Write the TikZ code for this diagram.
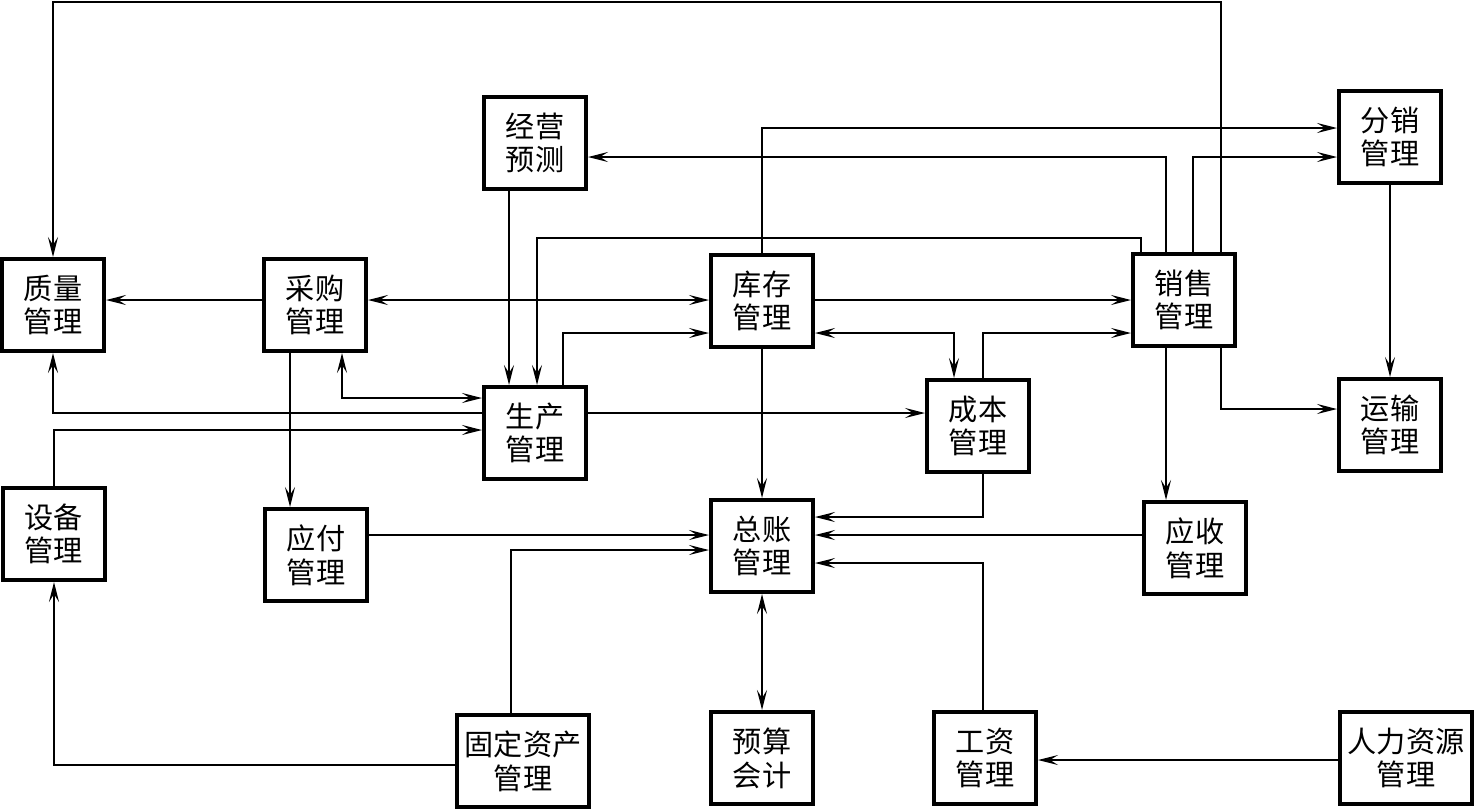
\documentclass[tikz,border=0pt]{standalone}
\usepackage{fontspec}
\newfontfamily\cjk{Noto Sans CJK SC}
\usepackage{tikz}
\usetikzlibrary{arrows.meta}
\tikzset{
  modbox/.style={draw,line width=0.4mm,fill=white,minimum width=10.2mm,minimum height=9.2mm,
    inner sep=0pt,align=center,font=\cjk\fontsize{8.3pt}{9.6pt}\selectfont},
  widebox/.style={modbox,minimum width=13.2mm},
  flow/.style={line width=0.2mm,-{Stealth[length=2mm,width=1mm,inset=0.8mm]}},
  both/.style={flow,{Stealth[length=2mm,width=1mm,inset=0.8mm]}-{Stealth[length=2mm,width=1mm,inset=0.8mm]}}
}
\begin{document}
\begin{tikzpicture}[x=0.1mm,y=-0.1mm]
\useasboundingbox (0,0) rectangle (1477,810);
% modules
\node[modbox] (zhiliang) at (53,305) {质量\\管理};
\node[modbox] (caigou) at (315,305) {采购\\管理};
\node[modbox] (jingying) at (535,143) {经营\\预测};
\node[modbox] (kucun) at (762,301) {库存\\管理};
\node[modbox] (xiaoshou) at (1184,300) {销售\\管理};
\node[modbox] (fenxiao) at (1390,137) {分销\\管理};
\node[modbox] (yunshu) at (1390,425) {运输\\管理};
\node[modbox] (shengchan) at (535,433) {生产\\管理};
\node[modbox] (chengben) at (978,426) {成本\\管理};
\node[modbox] (shebei) at (54,534) {设备\\管理};
\node[modbox] (yingfu) at (316,555) {应付\\管理};
\node[modbox] (zongzhang) at (762,546) {总账\\管理};
\node[modbox] (yingshou) at (1195,548) {应收\\管理};
\node[widebox] (guding) at (523,761) {固定资产\\管理};
\node[modbox] (yusuan) at (762,758) {预算\\会计};
\node[modbox] (gongzi) at (985,758) {工资\\管理};
\node[widebox] (renli) at (1406,758) {人力资源\\管理};
% links from sales
\draw[flow] (xiaoshou.north -| 1221,0) -- (1221,2) -| (zhiliang.north);
\draw[flow] (xiaoshou.north -| 1166,0) |- (jingying.east |- 0,157);
\draw[flow] (xiaoshou.north -| 1193,0) |- (fenxiao.west |- 0,157);
\draw[flow] (xiaoshou.north -| 1141,0) -- (1141,238) -| (shengchan.north -| 537,0);
\draw[flow] (xiaoshou.south -| 1221,0) |- (yunshu.west |- 0,409);
\draw[flow] (xiaoshou.south -| 1166,0) -- (yingshou.north -| 1166,0);
\draw[flow] (fenxiao) -- (yunshu);
% inventory and production
\draw[flow] (kucun.north) |- (fenxiao.west |- 0,128);
\draw[flow] (kucun.south) -- (zongzhang.north);
\draw[both] (caigou.east |- 0,300) -- (kucun.west |- 0,300);
\draw[flow] (caigou.west |- 0,300) -- (zhiliang.east |- 0,300);
\draw[flow] (caigou.south -| 290,0) -- (yingfu.north -| 290,0);
\draw[both] (caigou.south -| 342,0) |- (shengchan.west |- 0,398);
\draw[flow] (jingying.south -| 509,0) -- (shengchan.north -| 509,0);
\draw[flow] (shengchan.north -| 563,0) |- (kucun.west |- 0,333);
\draw[flow] (kucun.east |- 0,300) -- (xiaoshou.west |- 0,300);
\draw[flow] (chengben.north -| 983,0) |- (xiaoshou.west |- 0,333);
\draw[both] (kucun.east |- 0,333) -| (chengben.north -| 954,0);
\draw[flow] (shengchan.east |- 0,413) -- (chengben.west |- 0,413);
\draw[flow] (shengchan.west |- 0,413) -| (zhiliang.south);
\draw[flow] (shebei.north) |- (shengchan.west |- 0,430);
% ledger
\draw[flow] (chengben.south -| 983,0) |- (zongzhang.east |- 0,517);
\draw[flow] (yingshou.west |- 0,535) -- (zongzhang.east |- 0,535);
\draw[flow] (gongzi.north -| 983,0) |- (zongzhang.east |- 0,563);
\draw[flow] (yingfu.east |- 0,535) -- (zongzhang.west |- 0,535);
\draw[flow] (guding.north -| 511,0) |- (zongzhang.west |- 0,550);
\draw[both] (zongzhang.south) -- (yusuan.north);
\draw[flow] (renli.west |- 0,760) -- (gongzi.east |- 0,760);
\draw[flow] (guding.west |- 0,765) -| (shebei.south);
\end{tikzpicture}
\end{document}
